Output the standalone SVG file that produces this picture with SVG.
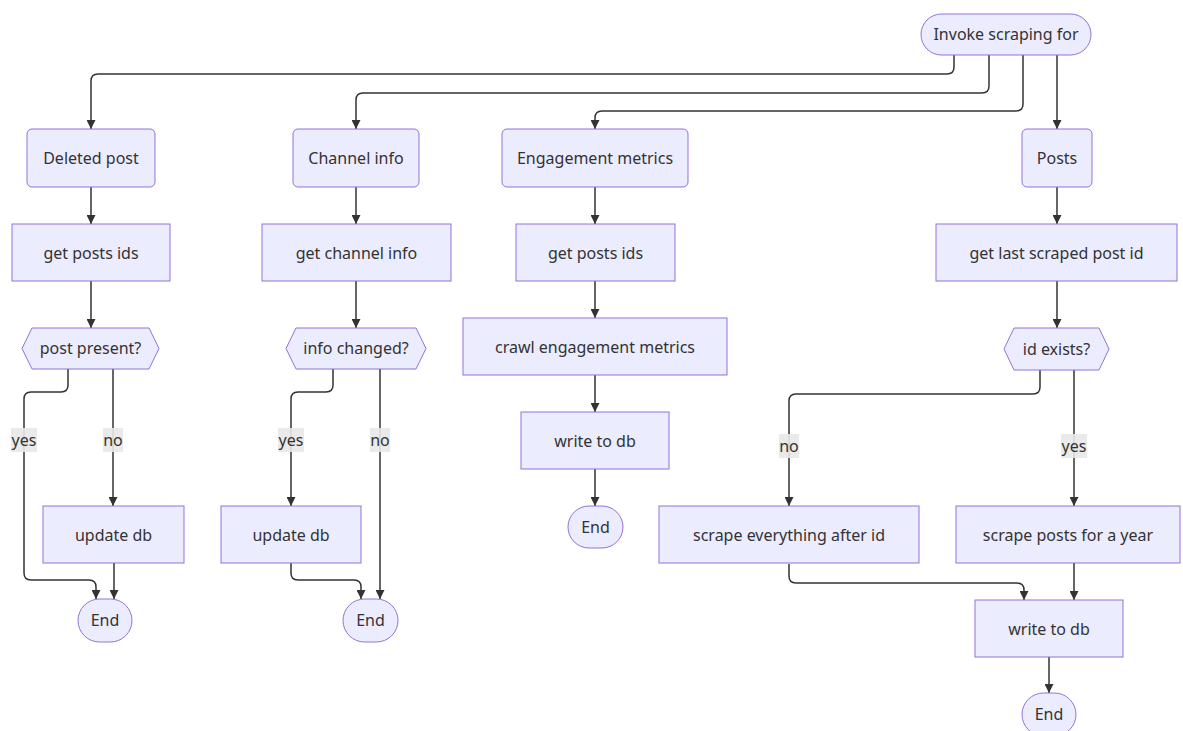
<svg xmlns="http://www.w3.org/2000/svg" width="1183" height="731" viewBox="0 0 1183 731">
<style>
.n{fill:#ECECFF;stroke:#9370DB;stroke-width:1}
.t{font-family:"Noto Sans","Open Sans",sans-serif;font-size:16px;fill:#333;text-anchor:middle}
.e{fill:none;stroke:#333;stroke-width:1.5;marker-end:url(#arr)}
.lb{fill:#e8e8e8;opacity:0.9}
.lt{font-family:"Noto Sans","Open Sans",sans-serif;font-size:16px;fill:#333;text-anchor:middle}
</style>
<defs>
<marker id="arr" viewBox="0 0 10 10" refX="10" refY="5" markerWidth="9" markerHeight="9" markerUnits="userSpaceOnUse" orient="auto">
<path d="M0,0 L10,5 L0,10 z" fill="#333"/>
</marker>
</defs>
<rect width="1183" height="731" fill="#fff"/>
<g id="connectors">
<path class="e" d="M954,55 V67 Q954,74 947,74 H98 Q91,74 91,81 V129"/>
<path class="e" d="M989,55 V86 Q989,93 982,93 H363 Q356,93 356,100 V129"/>
<path class="e" d="M1023,55 V104 Q1023,111 1016,111 H602 Q595,111 595,118 V129"/>
<path class="e" d="M1057,55 V129"/>
<path class="e" d="M91,187 V224"/>
<path class="e" d="M91,281 V328"/>
<path class="e" d="M68,369 V385 Q68,392 61,392 H31 Q24,392 24,399 V573 Q24,580 31,580 H89 Q96,580 96,587 V599"/>
<path class="e" d="M113,369 V506"/>
<path class="e" d="M114,563 V599"/>
<path class="e" d="M356,187 V224"/>
<path class="e" d="M356,281 V328"/>
<path class="e" d="M333,369 V385 Q333,392 326,392 H298 Q291,392 291,399 V506"/>
<path class="e" d="M380,369 V599"/>
<path class="e" d="M291,563 V573 Q291,580 298,580 H354 Q361,580 361,587 V599"/>
<path class="e" d="M595,187 V224"/>
<path class="e" d="M595,281 V318"/>
<path class="e" d="M595,375 V412"/>
<path class="e" d="M595,469 V506"/>
<path class="e" d="M1057,187 V224"/>
<path class="e" d="M1057,281 V328"/>
<path class="e" d="M1040,370 V387 Q1040,394 1033,394 H796 Q789,394 789,401 V506"/>
<path class="e" d="M1074,370 V506"/>
<path class="e" d="M789,564 V576 Q789,583 796,583 H1017 Q1024,583 1024,590 V600"/>
<path class="e" d="M1074,563 V600"/>
<path class="e" d="M1049,657 V693"/>
<rect class="lb" x="11" y="428" width="26" height="24"/><text class="lt" x="24" y="446">yes</text>
<rect class="lb" x="103" y="428" width="20" height="24"/><text class="lt" x="113" y="446">no</text>
<rect class="lb" x="278" y="428" width="26" height="24"/><text class="lt" x="291" y="446">yes</text>
<rect class="lb" x="370" y="428" width="20" height="24"/><text class="lt" x="380" y="446">no</text>
<rect class="lb" x="779" y="434" width="20" height="24"/><text class="lt" x="789" y="452">no</text>
<rect class="lb" x="1061" y="434" width="26" height="24"/><text class="lt" x="1074" y="452">yes</text>
</g>
<g id="invoke"><rect class="n" x="921" y="14" width="170" height="41" rx="20.5"/><text class="t" x="1006" y="40">Invoke scraping for</text></g>
<g id="deleted"><rect class="n" x="27" y="129" width="128" height="58" rx="5"/><text class="t" x="91" y="163.5">Deleted post</text></g>
<g id="channel"><rect class="n" x="293" y="129" width="126" height="58" rx="5"/><text class="t" x="356" y="163.5">Channel info</text></g>
<g id="engagement"><rect class="n" x="502" y="129" width="186" height="58" rx="5"/><text class="t" x="595" y="163.5">Engagement metrics</text></g>
<g id="posts"><rect class="n" x="1022" y="129" width="70" height="58" rx="5"/><text class="t" x="1057" y="163.5">Posts</text></g>
<g id="getPostsIds1"><rect class="n" x="12" y="224" width="158" height="57"/><text class="t" x="91" y="258.5">get posts ids</text></g>
<g id="getChannelInfo"><rect class="n" x="262" y="224" width="189" height="57"/><text class="t" x="356.5" y="258.5">get channel info</text></g>
<g id="getPostsIds2"><rect class="n" x="516" y="224" width="159" height="57"/><text class="t" x="595.5" y="258.5">get posts ids</text></g>
<g id="getLast"><rect class="n" x="936" y="224" width="241" height="57"/><text class="t" x="1056.5" y="258.5">get last scraped post id</text></g>
<g id="postPresent"><polygon class="n" points="22,348.5 32,328 149,328 159,348.5 149,369 32,369"/><text class="t" x="90.5" y="354">post present?</text></g>
<g id="infoChanged"><polygon class="n" points="286,348.5 296,328 416,328 426,348.5 416,369 296,369"/><text class="t" x="356" y="354">info changed?</text></g>
<g id="crawl"><rect class="n" x="463" y="318" width="264" height="57"/><text class="t" x="595" y="352.5">crawl engagement metrics</text></g>
<g id="idExists"><polygon class="n" points="1004,349 1014,328 1099,328 1109,349 1099,370 1014,370"/><text class="t" x="1056.5" y="354.5">id exists?</text></g>
<g id="updateDb1"><rect class="n" x="43" y="506" width="141" height="57"/><text class="t" x="113.5" y="540.5">update db</text></g>
<g id="updateDb2"><rect class="n" x="221" y="506" width="140" height="57"/><text class="t" x="291" y="540.5">update db</text></g>
<g id="writeDb1"><rect class="n" x="521" y="412" width="148" height="57"/><text class="t" x="595" y="446.5">write to db</text></g>
<g id="end2"><rect class="n" x="568" y="506" width="55" height="42" rx="21"/><text class="t" x="595.5" y="532.5">End</text></g>
<g id="scrapeAfter"><rect class="n" x="659" y="506" width="260" height="57"/><text class="t" x="789" y="540.5">scrape everything after id</text></g>
<g id="scrapeYear"><rect class="n" x="956" y="506" width="224" height="57"/><text class="t" x="1068" y="540.5">scrape posts for a year</text></g>
<g id="writeDb2"><rect class="n" x="975" y="600" width="148" height="57"/><text class="t" x="1049" y="634.5">write to db</text></g>
<g id="end1"><rect class="n" x="78" y="599" width="54" height="43" rx="21.5"/><text class="t" x="105" y="626">End</text></g>
<g id="end3"><rect class="n" x="343" y="599" width="55" height="43" rx="21.5"/><text class="t" x="370.5" y="626">End</text></g>
<g id="end4"><rect class="n" x="1022" y="693" width="54" height="43" rx="21.5"/><text class="t" x="1049" y="720">End</text></g>
</svg>
